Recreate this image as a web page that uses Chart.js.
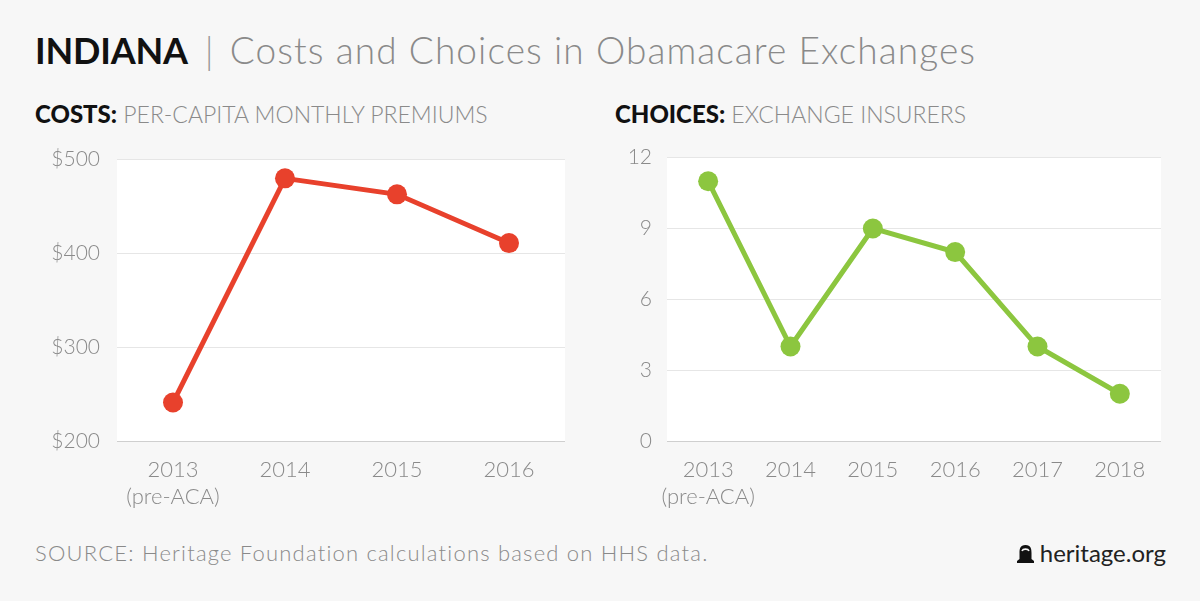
<!DOCTYPE html>
<html>
<head>
<meta charset="utf-8">
<script src="https://cdn.jsdelivr.net/npm/chart.js"></script>
<style>
  html, body { margin: 0; padding: 0; background: #f7f7f7; }
  body { width: 1200px; height: 601px; position: relative; overflow: hidden; font-family: Lato, "Open Sans", sans-serif; }
  .title { position: absolute; left: 35px; top: 27px; font-size: 37px; white-space: nowrap; }
  .title b { font-weight: 700; color: #111; font-size: 36px; letter-spacing: -0.2px; }
  .title .bar { color: #999; font-weight: 300; margin: 0 16px 0 17px; }
  .title .rest { color: #8a8a8a; font-weight: 300; letter-spacing: 1.1px; }
  .sub { position: absolute; top: 99px; font-size: 24px; white-space: nowrap; }
  .sub b { font-weight: 900; color: #111; }
  .sub span { color: #8a8a8a; font-weight: 300; font-size: 23px; }
  .src { position: absolute; left: 35px; top: 539px; font-size: 22px; color: #8a8a8a; font-weight: 300; letter-spacing: 1.2px; white-space: nowrap; }
  .brand { position: absolute; right: 34px; top: 538px; font-size: 24px; color: #222; white-space: nowrap; }
  .brand svg { vertical-align: -2px; margin-right: 6px; }
  .wrap { position: absolute; top: 130px; width: 600px; height: 400px; }
</style>
</head>
<body>
<div class="title"><b>INDIANA</b><span class="bar">|</span><span class="rest">Costs and Choices in Obamacare Exchanges</span></div>
<div class="sub" style="left:35px"><b>COSTS:</b> <span>PER-CAPITA MONTHLY PREMIUMS</span></div>
<div class="sub" style="left:615px"><b>CHOICES:</b> <span>EXCHANGE INSURERS</span></div>
<div class="wrap" style="left:0"><canvas id="costs" width="600" height="400"></canvas></div>
<div class="wrap" style="left:600px"><canvas id="choices" width="600" height="400"></canvas></div>
<div class="src">SOURCE: Heritage Foundation calculations based on HHS data.</div>
<div class="brand"><svg width="17" height="20" viewBox="0 0 17 20"><path d="M8.5 1 C3 1 2.5 5 2.5 9 L2.5 15 L0 17 L0 19 L17 19 L17 17 L14.5 15 L14.5 9 C14.5 5 14 1 8.5 1 Z" fill="#111"/><path d="M5 7 C6 4.5 11 4.5 12 7" stroke="#f7f7f7" stroke-width="1.6" fill="none"/></svg>heritage.org</div>

<script>
const costYears = [['2013', '(pre-ACA)'], '2014', '2015', '2016'];
const costValues = [241, 480, 463, 411];
const costTicks = [200, 300, 400, 500];

const choiceYears = [['2013', '(pre-ACA)'], '2014', '2015', '2016', '2017', '2018'];
const choiceValues = [11, 4, 9, 8, 4, 2];
const choiceTicks = [0, 3, 6, 9, 12];

const gray = '#8a8a8a';
const xFont = { family: 'Lato', size: 22, weight: '300', lineHeight: 1.25 };
const yFont = { family: 'Lato', size: 21, weight: '300' };

// white plot background behind the grid
const plotBg = {
  id: 'plotBg',
  beforeDraw(chart) {
    const a = chart.chartArea, ctx = chart.ctx;
    ctx.save();
    ctx.fillStyle = '#ffffff';
    ctx.fillRect(a.left, a.top, a.right - a.left, a.bottom - a.top);
    ctx.restore();
  }
};

function gridColor(ctx) {
  return ctx.index === 0 ? '#cfcfcf' : '#e6e6e6';
}

function lineSet(values, color) {
  return {
    data: values,
    borderColor: color,
    backgroundColor: color,
    borderWidth: 5,
    pointRadius: 10,
    pointHoverRadius: 10,
    pointBorderWidth: 0,
    tension: 0
  };
}

new Chart(document.getElementById('costs'), {
  type: 'line',
  data: { labels: costYears, datasets: [lineSet(costValues, '#e8412c')] },
  options: {
    responsive: false,
    animation: false,
    devicePixelRatio: 1,
    layout: { padding: { top: 26, right: 35, left: 0, bottom: 0 } },
    plugins: { legend: { display: false }, tooltip: { enabled: false } },
    scales: {
      x: {
        offset: true,
        grid: { display: false },
        border: { display: false },
        ticks: { color: gray, font: xFont, padding: 7, maxRotation: 0 },
        afterFit(s) { s.height = 89; }
      },
      y: {
        min: 200, max: 500,
        afterBuildTicks(s) { s.ticks = costTicks.map(v => ({ value: v })); },
        grid: { color: gridColor, drawTicks: false },
        border: { display: false },
        ticks: { color: gray, font: yFont, padding: 17, callback: v => '$' + v },
        afterFit(s) { s.width = 117; }
      }
    }
  },
  plugins: [plotBg]
});

new Chart(document.getElementById('choices'), {
  type: 'line',
  data: { labels: choiceYears, datasets: [lineSet(choiceValues, '#8cc63f')] },
  options: {
    responsive: false,
    animation: false,
    devicePixelRatio: 1,
    layout: { padding: { top: 26, right: 39, left: 0, bottom: 0 } },
    plugins: { legend: { display: false }, tooltip: { enabled: false } },
    scales: {
      x: {
        offset: true,
        grid: { display: false },
        border: { display: false },
        ticks: { color: gray, font: xFont, padding: 7, maxRotation: 0, autoSkip: false },
        afterFit(s) { s.height = 89; }
      },
      y: {
        min: 0, max: 12,
        afterBuildTicks(s) { s.ticks = choiceTicks.map(v => ({ value: v })); },
        grid: { color: gridColor, drawTicks: false },
        border: { display: false },
        ticks: { color: gray, font: yFont, padding: 15 },
        afterFit(s) { s.width = 67; }
      }
    }
  },
  plugins: [plotBg]
});
</script>
</body>
</html>
